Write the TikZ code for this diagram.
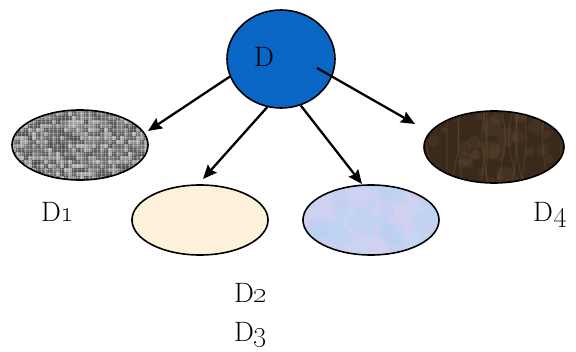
\documentclass[tikz,border=0pt]{standalone}
\usetikzlibrary{shapes.geometric,arrows.meta}
\definecolor{rootblue}{RGB}{10,102,196}
\definecolor{cream}{RGB}{253,241,218}
\definecolor{paleblue}{RGB}{198,214,244}
\definecolor{lilac}{RGB}{220,206,240}
\definecolor{skyblue}{RGB}{178,210,244}
\definecolor{darkbrown}{RGB}{58,42,28}
\definecolor{lightbrown}{RGB}{130,100,66}
\tikzset{
  ell/.style={ellipse, draw=black, line width=1.6pt, inner sep=0pt,
              minimum width=136pt, minimum height=70pt},
  lbl/.style={anchor=base west, inner sep=0pt, font=\fontsize{28}{30}\selectfont},
  link/.style={line width=2.3pt, -{Stealth[length=14pt,width=12pt,inset=2pt]}}
}
\begin{document}
\begin{tikzpicture}[x=1pt,y=-1pt]
\useasboundingbox (0,0) rectangle (576,352);

% woven grey texture
\begin{scope}
  \clip (80,145) ellipse [x radius=68, y radius=35];
  \pgfmathsetseed{17}
  \foreach \i in {0,...,34} {
    \foreach \j in {0,...,18} {
      \pgfmathsetmacro\g{int(32+40*rnd)}
      \fill[black!\g] (12+4*\i,108+4*\j) rectangle ++(4,4);
    }
  }
  \foreach \i in {0,...,34}
    \draw[white, opacity=0.3, line width=0.8pt] (13+4*\i,108) -- ++(0,76);
  \foreach \j in {0,...,18}
    \draw[white, opacity=0.22, line width=0.8pt] (12,109+4*\j) -- ++(140,0);
\end{scope}

% mottled pale blue texture
\begin{scope}
  \clip (371,220) ellipse [x radius=68, y radius=35];
  \fill[paleblue] (300,182) rectangle (442,258);
  \pgfmathsetseed{5}
  \foreach \k in {1,...,45} {
    \pgfmathsetmacro\px{303+136*rnd}
    \pgfmathsetmacro\py{185+70*rnd}
    \pgfmathsetmacro\pr{5+10*rnd}
    \fill[lilac, opacity=0.3] (\px,\py) circle[radius=\pr];
  }
  \foreach \k in {1,...,30} {
    \pgfmathsetmacro\px{303+136*rnd}
    \pgfmathsetmacro\py{185+70*rnd}
    \pgfmathsetmacro\pr{5+9*rnd}
    \fill[skyblue, opacity=0.3] (\px,\py) circle[radius=\pr];
  }
\end{scope}

% dark brown texture
\begin{scope}
  \clip (494,147) ellipse [x radius=70, y radius=36];
  \fill[darkbrown] (420,108) rectangle (568,186);
  \pgfmathsetseed{9}
  \foreach \k in {1,...,30} {
    \pgfmathsetmacro\px{426+136*rnd}
    \pgfmathsetmacro\py{112+70*rnd}
    \pgfmathsetmacro\pr{3+7*rnd}
    \fill[lightbrown, opacity=0.15] (\px,\py) circle[radius=\pr];
  }
  \foreach \k in {1,...,14} {
    \pgfmathsetmacro\px{430+130*rnd}
    \pgfmathsetmacro\dx{-10+20*rnd}
    \draw[lightbrown, opacity=0.25, line width=1.2pt]
      (\px,110) .. controls (\px+\dx,140) .. (\px-\dx,186);
  }
\end{scope}

% nodes
\node[ellipse, draw=black, line width=1.6pt, fill=rootblue, inner sep=0pt,
      minimum width=108pt, minimum height=98pt] (D) at (281,59) {};
\node[ell] (D1) at (80,145) {};
\node[ell, fill=cream] (D2) at (200,220) {};
\node[ell] (D3) at (371,220) {};
\node[ell, minimum width=140pt, minimum height=72pt] (D4) at (494,147) {};

% labels
\node[lbl] (lD)  at (254,67)  {D};
\node[lbl] (lD1) at (41,222)  {D\oldstylenums{1}};
\node[lbl] (lD2) at (234,303) {D\oldstylenums{2}};
\node[lbl] (lD3) at (234,342) {D\oldstylenums{3}};
\node[lbl] (lD4) at (533,222) {D\oldstylenums{4}};

% arrow tips
\coordinate (t1) at (148,131);
\coordinate (t2) at (203,179);
\coordinate (t3) at (362,184);
\coordinate (t4) at (415,124);
\coordinate (s4) at (317,68);

\draw[link] (D.199) -- (t1);
\draw[link] (D.254) -- (t2);
\draw[link] (D.293) -- (t3);
\draw[link] (s4) -- (t4);
\end{tikzpicture}
\end{document}
